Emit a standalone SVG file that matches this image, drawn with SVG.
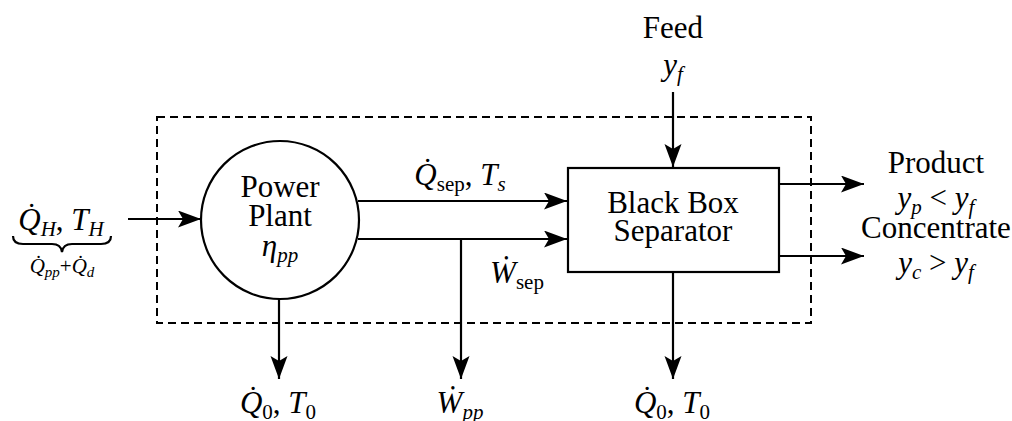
<svg xmlns="http://www.w3.org/2000/svg" width="1012" height="421" viewBox="0 0 1012 421">
<defs>
<marker id="ah" markerWidth="24" markerHeight="18" refX="23" refY="8.5" orient="auto" markerUnits="userSpaceOnUse">
<path d="M0,0 L23,8.5 L0,17 L5,8.5 Z" fill="#000"/>
</marker>
<style>
.ln{stroke:#000;stroke-width:2.2;fill:none}
.arr{stroke:#000;stroke-width:2.2;fill:none;marker-end:url(#ah)}
text{font-family:'Liberation Serif','DejaVu Serif','Noto Serif',serif;fill:#000;text-anchor:middle}
.t{font-size:31px}
.m{font-style:italic;font-size:31px}
.up{font-style:normal}
.s{font-size:21px}
</style>
</defs>
<rect width="1012" height="421" fill="#fff"/>
<g id="boundary">
<rect x="157" y="117" width="654" height="206" fill="none" stroke="#000" stroke-width="2" stroke-dasharray="8,5"/>
</g>
<g id="power-plant">
<circle cx="280" cy="220" r="79" fill="#fff" stroke="#000" stroke-width="2.2"/>
<text class="t" x="280" y="197">Power</text>
<text class="t" x="280" y="226">Plant</text>
<text class="m" x="280" y="256">η<tspan class="s" dy="6">pp</tspan></text>
</g>
<g id="separator">
<rect x="568" y="168" width="211" height="104" fill="#fff" stroke="#000" stroke-width="2.2"/>
<text class="t" x="673" y="213">Black Box</text>
<text class="t" x="673" y="241">Separator</text>
</g>
<g id="connectors">
<line class="arr" x1="128" y1="219" x2="201" y2="219"/>
<line class="arr" x1="358" y1="201" x2="567" y2="201"/>
<line class="arr" x1="358" y1="239" x2="567" y2="239"/>
<line class="arr" x1="461" y1="239" x2="461" y2="379"/>
<line class="arr" x1="279" y1="298" x2="279" y2="379"/>
<line class="arr" x1="673" y1="272" x2="673" y2="379"/>
<line class="arr" x1="673" y1="92" x2="673" y2="167"/>
<line class="arr" x1="779" y1="184" x2="864" y2="184"/>
<line class="arr" x1="779" y1="256" x2="864" y2="256"/>
</g>
<g id="labels">
<text class="m" x="61" y="230">Q̇<tspan class="s" dy="6">H</tspan><tspan dy="-6" class="up">, </tspan>T<tspan class="s" dy="6">H</tspan></text>
<path class="ln" d="M13,236 Q13,244 23,244 L52,244 Q61,244 62,252 Q63,244 72,244 L101,244 Q111,244 111,236" stroke-width="2.5"/>
<text class="m" x="62" y="273" style="font-size:21px">Q̇<tspan style="font-size:15px" dy="4">pp</tspan><tspan class="up" dy="-4">+</tspan>Q̇<tspan style="font-size:15px" dy="4">d</tspan></text>
<text class="t" x="673" y="38">Feed</text>
<text class="m" x="673" y="75">y<tspan class="s" dy="6">f</tspan></text>
<text class="t" x="936" y="173">Product</text>
<text class="m" x="936" y="208">y<tspan class="s" dy="6">p</tspan><tspan class="up" dy="-6"> &lt; </tspan>y<tspan class="s" dy="6">f</tspan></text>
<text class="t" x="936" y="238">Concentrate</text>
<text class="m" x="936" y="273">y<tspan class="s" dy="6">c</tspan><tspan class="up" dy="-6"> &gt; </tspan>y<tspan class="s" dy="6">f</tspan></text>
<text class="m" x="460" y="185">Q̇<tspan class="s up" dy="6">sep</tspan><tspan class="up" dy="-6">, </tspan>T<tspan class="s" dy="6">s</tspan></text>
<text class="m" x="517" y="283">Ẇ<tspan class="s up" dy="6">sep</tspan></text>
<text class="m" x="278" y="413">Q̇<tspan class="s up" dy="6">0</tspan><tspan class="up" dy="-6">, </tspan>T<tspan class="s up" dy="6">0</tspan></text>
<text class="m" x="460" y="413">Ẇ<tspan class="s" dy="6">pp</tspan></text>
<text class="m" x="672" y="413">Q̇<tspan class="s up" dy="6">0</tspan><tspan class="up" dy="-6">, </tspan>T<tspan class="s up" dy="6">0</tspan></text>
</g>
</svg>
